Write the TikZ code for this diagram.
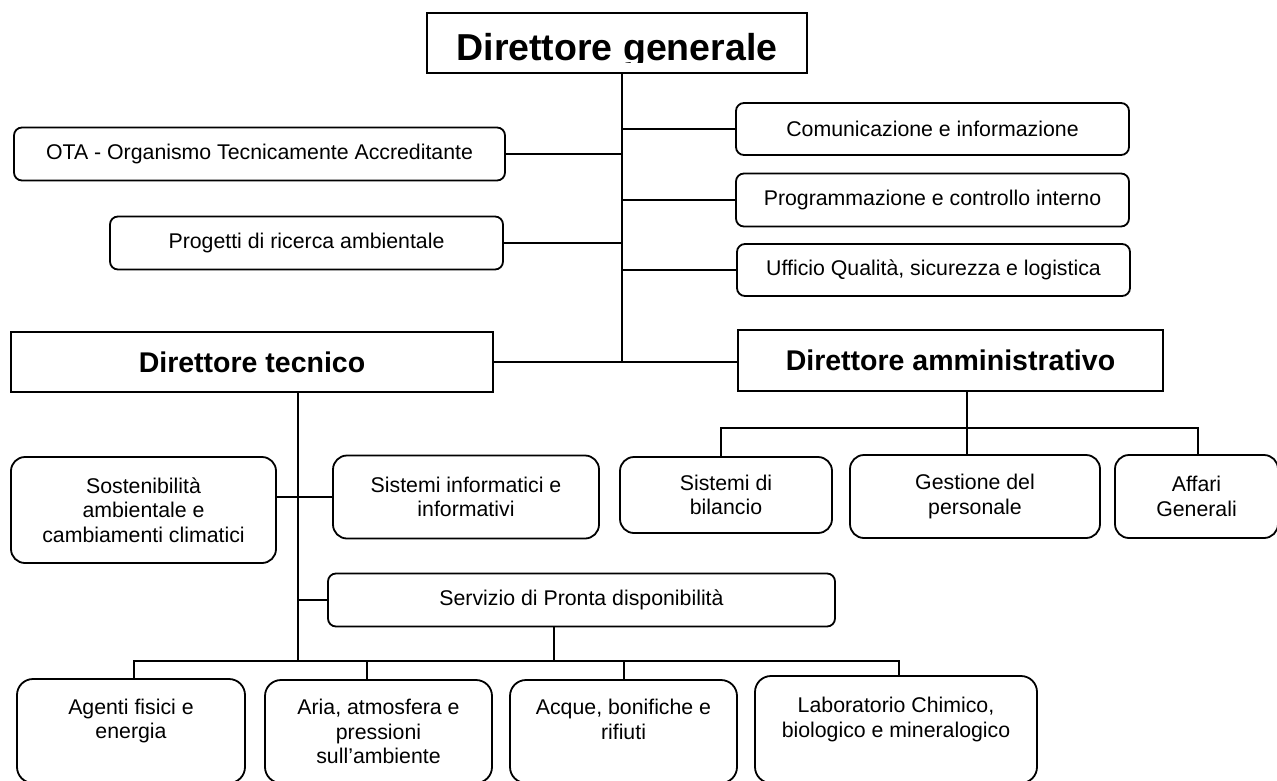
\documentclass[tikz,border=0pt]{standalone}
\usepackage{fontspec}
\setmainfont{Liberation Sans}
\newcommand\normfont{\fontsize{21.3}{24.5}\selectfont}
\newcommand\dirfont{\fontsize{28.5}{34}\selectfont\bfseries}
\newcommand\dgfont{\fontsize{37.5}{42}\selectfont\bfseries}
\tikzset{
  conn/.style={line width=2pt, line cap=rect},
  trunk/.style={line width=2.6pt, line cap=rect},
  rbox/.style={draw, line width=1.8pt, rounded corners=8pt, inner sep=0pt, align=center, font=\normfont},
  rboxl/.style={rbox, rounded corners=14pt},
  dirbox/.style={draw, line width=2.8pt, inner sep=0pt, align=center, font=\dirfont},
}
\begin{document}
\begin{tikzpicture}[x=1pt,y=-1pt]
\useasboundingbox (0,0) rectangle (1277,780);
% Direttore generale
\node[dirbox, minimum width=380pt, minimum height=60pt] (dg) at (617,43) {};
\begin{scope}
\clip (430,15) rectangle (804,62.5);
\node[font=\dgfont, anchor=base, inner sep=0pt] (dgt) at (617,60) {Direttore generale};
\end{scope}
% staff boxes
\node[rbox, minimum width=491pt, minimum height=53pt] (ota) at (259.5,154) {OTA - Organismo Tecnicamente Accreditante};
\node[rbox, minimum width=393pt, minimum height=53pt] (prog) at (306.5,243) {Progetti di ricerca ambientale};
\node[rbox, minimum width=393pt, minimum height=52pt] (com) at (932.5,129) {Comunicazione e informazione};
\node[rbox, minimum width=393pt, minimum height=53pt] (pci) at (932.5,200) {Programmazione e controllo interno};
\node[rbox, minimum width=393pt, minimum height=52pt] (uff) at (933.5,270) {Ufficio Qualità, sicurezza e logistica};
% directors
\node[dirbox, minimum width=482pt, minimum height=60pt] (dt) at (252,362) {Direttore tecnico};
\node[dirbox, minimum width=425pt, minimum height=61pt] (da) at (950.5,360.5) {Direttore amministrativo};
% admin units
\node[rboxl, minimum width=212pt, minimum height=76pt] (bil) at (726,495) {Sistemi di\\bilancio};
\node[rboxl, minimum width=250pt, minimum height=83pt] (ges) at (975,496.5) {Gestione del\\personale};
\node[rboxl, minimum width=163pt, minimum height=83pt] (aff) at (1196.5,496.5) {Affari\\Generali};
% technical units
\node[rboxl, minimum width=265pt, minimum height=106pt] (sost) at (143.5,510) {Sostenibilità\\ambientale e\\cambiamenti climatici};
\node[rboxl, minimum width=266pt, minimum height=83pt] (sinf) at (466,497) {Sistemi informatici e\\informativi};
\node[rbox, minimum width=507pt, minimum height=53pt] (serv) at (581.5,600) {Servizio di Pronta disponibilità};
\node[rboxl, rounded corners=16pt, minimum width=228pt, minimum height=104pt] (ag) at (131,731) {Agenti fisici e\\energia\\\mbox{}};
\node[rboxl, rounded corners=16pt, minimum width=227pt, minimum height=103pt] (aria) at (378.5,731.5) {Aria, atmosfera e\\pressioni\\sull’ambiente};
\node[rboxl, rounded corners=16pt, minimum width=227pt, minimum height=103pt] (acq) at (623.5,731.5) {Acque, bonifiche e\\rifiuti\\\mbox{}};
\node[rboxl, rounded corners=16pt, minimum width=282pt, minimum height=107pt] (lab) at (896,729.5) {Laboratorio Chimico,\\biologico e mineralogico\\\mbox{}};
% coordinates
\coordinate (tr) at (622,362);
\coordinate (dav) at (967,428);
\coordinate (bl) at (721,428);
\coordinate (br) at (1198,428);
\coordinate (tv) at (298,661);
\coordinate (sv) at (554,661);
\coordinate (b1) at (134,661);
\coordinate (b2) at (367,661);
\coordinate (b3) at (624,661);
\coordinate (b4) at (899,661);
% connectors
\draw[trunk] (tr |- dg.south) -- (tr);
\draw[conn] (ota.east) -- (ota.east -| tr);
\draw[conn] (prog.east) -- (prog.east -| tr);
\draw[conn] (com.west -| tr) -- (com.west);
\draw[conn] (pci.west -| tr) -- (pci.west);
\draw[conn] (uff.west -| tr) -- (uff.west);
\draw[trunk] (dt.east) -- (dt.east -| da.west);
\draw[conn] (dav |- da.south) -- (dav);
\draw[conn] (bl) -- (br);
\draw[conn] (bl) -- (bl |- bil.north);
\draw[conn] (dav) -- (dav |- ges.north);
\draw[conn] (br) -- (br |- aff.north);
\draw[conn] (tv |- dt.south) -- (tv);
\draw[conn] (sost.east |- sinf.west) -- (sinf.west);
\draw[conn] (tv |- serv.west) -- (serv.west);
\draw[conn] (sv |- serv.south) -- (sv);
\draw[conn] (b1) -- (b4);
\draw[conn] (b1) -- (b1 |- ag.north);
\draw[conn] (b2) -- (b2 |- aria.north);
\draw[conn] (b3) -- (b3 |- acq.north);
\draw[conn] (b4) -- (b4 |- lab.north);
\end{tikzpicture}
\end{document}
